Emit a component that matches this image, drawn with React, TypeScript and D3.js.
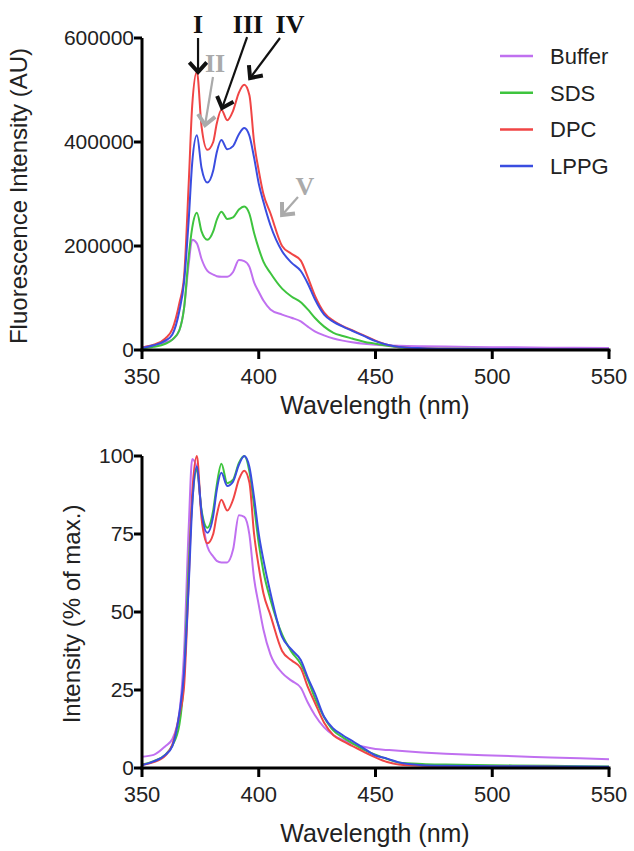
import React from "react";
import * as d3 from "d3";

const wavelength = [350,355,360,363,366,368,370,371.5,373.5,375.5,378,380.5,382,384,386.5,389,391.5,393.8,396,398,400,402,405,410,414,418,421,424,428,432,436,440,445,450,455,460,470,480,500,525,550];

// Top panel: fluorescence intensity (AU)
const bufferAU = [5000,9000,15000,20000,38000,80000,165000,212000,205000,175000,152000,145000,142000,141000,141000,150000,173000,171000,160000,130000,112000,95000,78000,68000,62000,55000,45000,36000,28000,22000,18000,15000,12000,10000,9000,8000,7000,6500,5500,4500,4000];
const sdsAU = [3000,6000,12000,20000,38000,80000,180000,235000,264000,228000,212000,228000,250000,266000,252000,255000,270000,276000,262000,225000,195000,170000,148000,118000,103000,92000,78000,62000,45000,33000,27000,22000,16000,12000,8000,5000,3000,2500,2000,1500,1200];
const dpcAU = [5000,10000,22000,40000,90000,140000,320000,470000,535000,430000,385000,400000,435000,462000,442000,460000,495000,510000,490000,400000,345000,300000,263000,200000,185000,172000,140000,105000,72000,56000,46000,38000,28000,18000,10000,6000,3500,2500,2000,1500,1200];
const lppgAU = [4000,9000,18000,30000,75000,130000,250000,360000,413000,350000,322000,345000,380000,404000,386000,392000,415000,427000,412000,370000,320000,285000,240000,190000,168000,152000,128000,98000,68000,54000,45000,37000,27000,17000,10000,6000,3500,2500,2000,1500,1200];

// Bottom panel: intensity (% of max.)
const bufferPct = [3.6,4.2,7,9.3,17.8,37,77,99,96,82,71,67.8,66.4,65.9,65.9,70,81,80.5,74.8,60.7,52.3,44.4,36.4,30.5,28,25.7,21,17,13,10.5,9,7.8,6.8,6.1,5.8,5.5,5,4.6,4,3.4,2.8];
const sdsPct = [1.1,2.2,4.3,7.2,13.8,29,65,85,95.7,82.6,77,82.6,90.6,97.5,91.3,92.4,97.8,100,95,84,72,63,54,42.8,37.3,33.3,28.3,22.5,16.3,12,9.8,8,5.8,4.3,2.9,1.8,1.3,1.1,0.9,0.7,0.5];
const dpcPct = [1,1.9,4,7.5,17,26,60,88,100,80,72,75,81,86,82.5,86,92.5,95.3,91.5,75,64.5,56,49,37.5,34.5,32,26,21,14.5,10.5,8.6,7.1,5.2,3.4,1.9,1.1,0.7,0.6,0.5,0.4,0.3];
const lppgPct = [0.9,2.1,4.2,7,17.5,30.4,58.5,84,96.7,82,75.4,80.8,89,94.6,90.4,91.8,97.2,100,96.5,86.7,75,66.7,56.2,42,38,34.6,29,24,16.4,12.6,10.5,8.7,6.3,4,3,1.8,0.9,0.7,0.6,0.5,0.4];

const seriesNames = ["Buffer", "SDS", "DPC", "LPPG"];
const seriesColors = ["#c070f0", "#3ec43e", "#f04545", "#3a4de0"];

const xTicks = [350, 400, 450, 500, 550];
const yTicksTop = [0, 200000, 400000, 600000];
const yTicksBottom = [0, 25, 50, 75, 100];

// Annotations (data units of top panel)
const annotations = [
  { label: "I", color: "#111", tx: 374.0, ty: 609600, x1: 374.0, y1: 600000, x2: 374.0, y2: 534600 },
  { label: "II", color: "#aaaaaa", tx: 381.3, ty: 534600, x1: 380.4, y1: 525000, x2: 377.0, y2: 432700 },
  { label: "III", color: "#111", tx: 395.4, ty: 609600, x1: 395.0, y1: 601900, x2: 384.3, y2: 465400 },
  { label: "IV", color: "#111", tx: 413.4, ty: 609600, x1: 409.1, y1: 600000, x2: 396.3, y2: 523000 },
  { label: "V", color: "#aaaaaa", tx: 419.8, ty: 298000, x1: 416.8, y1: 294200, x2: 410.0, y2: 259600 },
];

const FONT = "'Liberation Sans', Arial, Helvetica, sans-serif";
const TXT = "#222";

function Panel({ yDomain, yRange, yTicks, data, yTitle, yTitleX, xTitleY, tickFmt }: any) {
  const x = d3.scaleLinear().domain([350, 550]).range([142, 609]);
  const y = d3.scaleLinear().domain(yDomain).range(yRange);
  const line = d3.line<number>().x((_, i) => x(wavelength[i])).y((d) => y(d)).curve(d3.curveMonotoneX);
  const y0 = y(yDomain[0]);
  const yTop = y(yDomain[1]);
  const midY = (y0 + yTop) / 2 + 2;
  return (
    <g>
      {data.map((s: number[], i: number) => (
        <path key={i} d={line(s) || ""} fill="none" stroke={seriesColors[i]} strokeWidth={2} />
      ))}
      {/* y axis */}
      <line x1={142} x2={142} y1={y0 + 1.5} y2={yTop} stroke="#000" strokeWidth={3} />
      {yTicks.map((t: number) => (
        <g key={t}>
          <line x1={134} x2={142} y1={y(t)} y2={y(t)} stroke="#000" strokeWidth={3} />
          <text x={134} y={y(t)} dy="0.35em" textAnchor="end" fontFamily={FONT} fontSize={21} fill={TXT}>
            {tickFmt(t)}
          </text>
        </g>
      ))}
      {/* x axis */}
      <line x1={140.5} x2={610.5} y1={y0} y2={y0} stroke="#000" strokeWidth={3} />
      {xTicks.map((t) => (
        <g key={t}>
          <line x1={x(t)} x2={x(t)} y1={y0} y2={y0 + 9} stroke="#000" strokeWidth={3} />
          <text x={x(t)} y={y0 + 34} textAnchor="middle" fontFamily={FONT} fontSize={22} fill={TXT}>
            {t}
          </text>
        </g>
      ))}
      <text x={375} y={xTitleY} textAnchor="middle" fontFamily={FONT} fontSize={25} fill={TXT}>
        Wavelength (nm)
      </text>
      <text
        transform={`translate(${yTitleX},${midY}) rotate(-90)`}
        textAnchor="middle"
        fontFamily={FONT}
        fontSize={24}
        fill={TXT}
      >
        {yTitle}
      </text>
    </g>
  );
}

function Arrow({ x1, y1, x2, y2, color }: any) {
  const ang = Math.atan2(y2 - y1, x2 - x1);
  const len = 13;
  const spread = (42 * Math.PI) / 180;
  const ax = x2 - len * Math.cos(ang - spread);
  const ay = y2 - len * Math.sin(ang - spread);
  const bx = x2 - len * Math.cos(ang + spread);
  const by = y2 - len * Math.sin(ang + spread);
  return (
    <g stroke={color} fill="none" strokeLinecap="butt">
      <line x1={x1} y1={y1} x2={x2} y2={y2} strokeWidth={2.2} />
      <polyline points={`${ax},${ay} ${x2},${y2} ${bx},${by}`} strokeWidth={4} strokeLinejoin="miter" />
    </g>
  );
}

export default function App() {
  const xTop = d3.scaleLinear().domain([350, 550]).range([142, 609]);
  const yTop = d3.scaleLinear().domain([0, 600000]).range([350, 38]);
  return (
    <svg width={634} height={851} style={{ position: "absolute", left: 0, top: 0, background: "#fff" }}>
      <rect width={634} height={851} fill="#fff" />
      <Panel
        yDomain={[0, 600000]}
        yRange={[350, 38]}
        yTicks={yTicksTop}
        data={[bufferAU, sdsAU, dpcAU, lppgAU]}
        yTitle="Fluorescence Intensity (AU)"
        yTitleX={27}
        xTitleY={414}
        tickFmt={(t: number) => String(t)}
      />
      <Panel
        yDomain={[0, 100]}
        yRange={[768, 456]}
        yTicks={yTicksBottom}
        data={[bufferPct, sdsPct, dpcPct, lppgPct]}
        yTitle="Intensity (% of max.)"
        yTitleX={80}
        xTitleY={842}
        tickFmt={(t: number) => String(t)}
      />
      {/* legend */}
      {seriesNames.map((n, i) => (
        <g key={n}>
          <line x1={500} x2={533} y1={56 + i * 36.7} y2={56 + i * 36.7} stroke={seriesColors[i]} strokeWidth={2.5} />
          <text x={550} y={56 + i * 36.7} dy="0.36em" fontFamily={FONT} fontSize={22} fill={TXT}>
            {n}
          </text>
        </g>
      ))}
      {/* annotations */}
      {annotations.map((a) => (
        <g key={a.label}>
          <text
            x={xTop(a.tx)}
            y={yTop(a.ty)}
            textAnchor="middle"
            fontFamily="'Liberation Serif', 'Times New Roman', serif"
            fontWeight="bold"
            fontSize={26}
            fill={a.color}
          >
            {a.label}
          </text>
          <Arrow x1={xTop(a.x1)} y1={yTop(a.y1)} x2={xTop(a.x2)} y2={yTop(a.y2)} color={a.color} />
        </g>
      ))}
    </svg>
  );
}
